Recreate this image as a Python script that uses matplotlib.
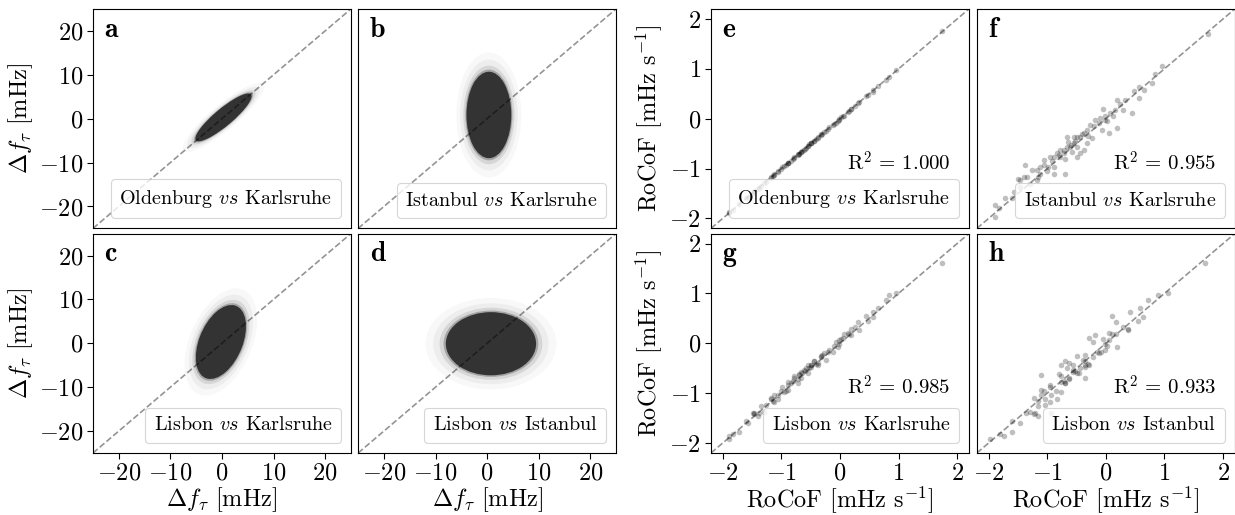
import matplotlib
matplotlib.use('Agg')
import matplotlib.pyplot as plt
from matplotlib.patches import Ellipse
from matplotlib.lines import Line2D
import numpy as np

plt.rcParams['font.family'] = 'serif'
plt.rcParams['font.serif'] = ['cmr10']
plt.rcParams['mathtext.fontset'] = 'cm'
plt.rcParams['axes.formatter.use_mathtext'] = True
plt.rcParams['axes.unicode_minus'] = True

# dense increment clouds (a-d): centre, width, height, angle in mHz
cloud_letters = ['a', 'b', 'c', 'd']
cloud_names = [r'Oldenburg $vs$ Karlsruhe', r'Istanbul $vs$ Karlsruhe',
               r'Lisbon $vs$ Karlsruhe', r'Lisbon $vs$ Istanbul']
cloud_cx = [0.3, 0.35, -0.2, 0.75]
cloud_cy = [0.3, 0.85, 0.3, -0.1]
cloud_w = [15.0, 8.7, 17.5, 17.5]
cloud_h = [3.7, 19.7, 8.5, 14.4]
cloud_angle = [45, 0, 72, 0]

# RoCoF values per station [mHz/s]
karlsruhe = [1.75, 0.84, 0.96, 0.78, 0.56, 0.56, 0.44, 0.33, 0.19, 0.16,
             0.30, -0.04, -0.01, 0.07, -0.18, -0.12, -0.01, 0.13, 0.19, 0.05,
             -0.07, -0.21, -0.27, -0.38, -0.32, -0.44, -0.49, -0.55, -0.24, -0.49,
             -0.55, -0.61, -0.67, -0.72, -0.78, -0.84, -0.89, -0.95, -0.78, -0.72,
             -0.49, -0.44, -0.38, -0.89, -0.98, -1.06, -1.12, -1.18, -1.26, -1.35,
             -1.40, -1.46, -1.49, -1.38, -1.12, -0.89, -0.69, -1.15, -1.29, -1.46,
             -1.57, -1.60, -1.72, -1.83, -1.89, -1.89, -1.18, -1.06, -0.64, -0.32,
             -0.67, -0.60, -0.52, -0.80, -0.10, 0.02, -0.30, -0.58, -0.92, 0.25,
             0.48, 0.65, -1.00, -0.40, -0.70]
oldenburg = [1.76, 0.83, 0.98, 0.78, 0.57, 0.54, 0.45, 0.33, 0.20, 0.15,
             0.32, -0.04, 0.00, 0.06, -0.17, -0.12, -0.02, 0.14, 0.19, 0.06,
             -0.08, -0.21, -0.26, -0.38, -0.31, -0.45, -0.49, -0.54, -0.24, -0.48,
             -0.55, -0.62, -0.66, -0.72, -0.77, -0.85, -0.89, -0.94, -0.78, -0.71,
             -0.49, -0.45, -0.37, -0.89, -0.97, -1.06, -1.13, -1.17, -1.26, -1.34,
             -1.40, -1.47, -1.48, -1.38, -1.11, -0.89, -0.70, -1.14, -1.29, -1.45,
             -1.57, -1.60, -1.71, -1.83, -1.90, -1.88, -1.18, -1.05, -0.64, -0.33,
             -0.66, -0.60, -0.51, -0.80, -0.10, 0.03, -0.30, -0.58, -0.92, 0.26,
             0.48, 0.66, -1.00, -0.40, -0.71]
istanbul = [1.70, 0.89, 1.06, 0.72, 0.64, 0.42, 0.11, 0.38, 0.38, 0.18,
            0.18, 0.19, 0.05, 0.11, -0.02, -0.09, -0.02, 0.05, -0.19, -0.29,
            -0.22, -0.15, -0.12, -0.29, -0.22, -0.36, -0.36, -0.36, -0.39, -0.56,
            -0.49, -0.56, -0.56, -0.63, -0.63, -0.69, -0.76, -0.76, -0.76, -0.69,
            -0.76, -0.69, -0.63, -0.96, -0.96, -0.93, -0.96, -1.03, -1.03, -1.16,
            -1.16, -1.23, -1.20, -0.93, -1.10, -1.10, -1.10, -1.16, -1.30, -1.37,
            -1.47, -1.60, -1.60, -1.80, -1.74, -1.97, -1.23, -0.83, -0.46, -0.49,
            -0.36, -0.52, -0.44, -0.72, 0.02, -0.05, -0.35, -0.66, -0.85, 0.30,
            0.55, 0.58, -1.05, -0.30, -0.80]
lisbon = [1.61, 0.96, 1.01, 0.86, 0.52, 0.62, 0.54, 0.26, 0.28, 0.18,
          0.43, -0.07, 0.06, 0.18, -0.14, -0.18, -0.01, 0.21, 0.17, 0.11,
          0.03, -0.18, -0.19, -0.43, -0.27, -0.35, -0.47, -0.43, -0.34, -0.43,
          -0.59, -0.54, -0.57, -0.72, -0.70, -0.80, -0.78, -0.98, -0.66, -0.79,
          -0.44, -0.36, -0.40, -0.83, -0.88, -1.03, -1.17, -1.11, -1.24, -1.26,
          -1.46, -1.42, -1.39, -1.39, -1.04, -0.93, -0.64, -1.15, -1.37, -1.40,
          -1.60, -1.55, -1.78, -1.81, -1.86, -1.91, -1.09, -1.11, -0.60, -0.25,
          -0.69, -0.55, -0.50, -0.75, -0.05, 0.08, -0.24, -0.50, -0.95, 0.32,
          0.45, 0.70, -0.95, -0.42, -0.62]

rocof_letters = ['e', 'f', 'g', 'h']
rocof_names = [r'Oldenburg $vs$ Karlsruhe', r'Istanbul $vs$ Karlsruhe',
               r'Lisbon $vs$ Karlsruhe', r'Lisbon $vs$ Istanbul']
rocof_x = [karlsruhe, karlsruhe, karlsruhe, istanbul]
rocof_y = [oldenburg, istanbul, lisbon, lisbon]
rocof_r2 = ['1.000', '0.955', '0.985', '0.933']

ticks_df = [-20, -10, 0, 10, 20]
ticks_rocof = [-2, -1, 0, 1, 2]

fig = plt.figure(figsize=(12.35, 5.15), dpi=100)

col_left = [0.0753, 0.2900]
col_right = [0.5757, 0.7910]
row_bottom = [0.5565, 0.1204]
w, h = 0.2088, 0.4260


def panel_box(ax, name):
    leg = ax.legend([Line2D([], [], linestyle='none')], [name], loc='lower right',
                    handlelength=0, handletextpad=0, fontsize=14.5,
                    borderpad=0.42, borderaxespad=0.5)
    leg.get_frame().set_linewidth(0.8)


def style_axes(ax, i, j, lim, ticks, label):
    ax.set_xlim(-lim, lim)
    ax.set_ylim(-lim, lim)
    ax.set_xticks(ticks)
    ax.set_yticks(ticks)
    ax.tick_params(direction='out', length=4, labelsize=17.5, pad=3,
                   left=(j == 0), labelleft=(j == 0),
                   bottom=(i == 1), labelbottom=(i == 1))
    if j == 0:
        ax.set_ylabel(label, fontsize=17.5, labelpad=3)
    if i == 1:
        ax.set_xlabel(label, fontsize=17.5, labelpad=0)
    # diagonal x = y
    ax.plot([-lim, lim], [-lim, lim], color='k', alpha=0.42, ls='--', lw=1.2, zorder=3)


# Панели a-d: облака приращений
for k in range(4):
    i, j = k // 2, k % 2
    ax = fig.add_axes([col_left[j], row_bottom[i], w, h])
    for scale, alpha in [(1.45, 0.03), (1.28, 0.05), (1.14, 0.12), (1.05, 0.3)]:
        ax.add_patch(Ellipse((cloud_cx[k], cloud_cy[k]), cloud_w[k] * scale,
                             cloud_h[k] * scale, angle=cloud_angle[k],
                             color='#333333', alpha=alpha, lw=0))
    ax.add_patch(Ellipse((cloud_cx[k], cloud_cy[k]), cloud_w[k], cloud_h[k],
                         angle=cloud_angle[k], color='#333333', lw=0))
    style_axes(ax, i, j, 25, ticks_df, r'$\Delta f_\tau$ [mHz]')
    ax.text(0.045, 0.965, cloud_letters[k], transform=ax.transAxes, va='top',
            ha='left', fontsize=20, family='cmb10')
    panel_box(ax, cloud_names[k])

# Панели e-h: RoCoF
for k in range(4):
    i, j = k // 2, k % 2
    ax = fig.add_axes([col_right[j], row_bottom[i], w, h])
    ax.scatter(rocof_x[k], rocof_y[k], s=16, color='k', alpha=0.25, lw=0, zorder=2)
    style_axes(ax, i, j, 2.2, ticks_rocof, r'RoCoF [mHz s$^{-1}$]')
    ax.text(0.045, 0.965, rocof_letters[k], transform=ax.transAxes, va='top',
            ha='left', fontsize=20, family='cmb10')
    ax.text(0.93, 0.30, r'$\mathrm{R}^2$ = ' + rocof_r2[k], transform=ax.transAxes,
            ha='right', va='center', fontsize=15)
    panel_box(ax, rocof_names[k])

fig.savefig('out.png', dpi=100)
